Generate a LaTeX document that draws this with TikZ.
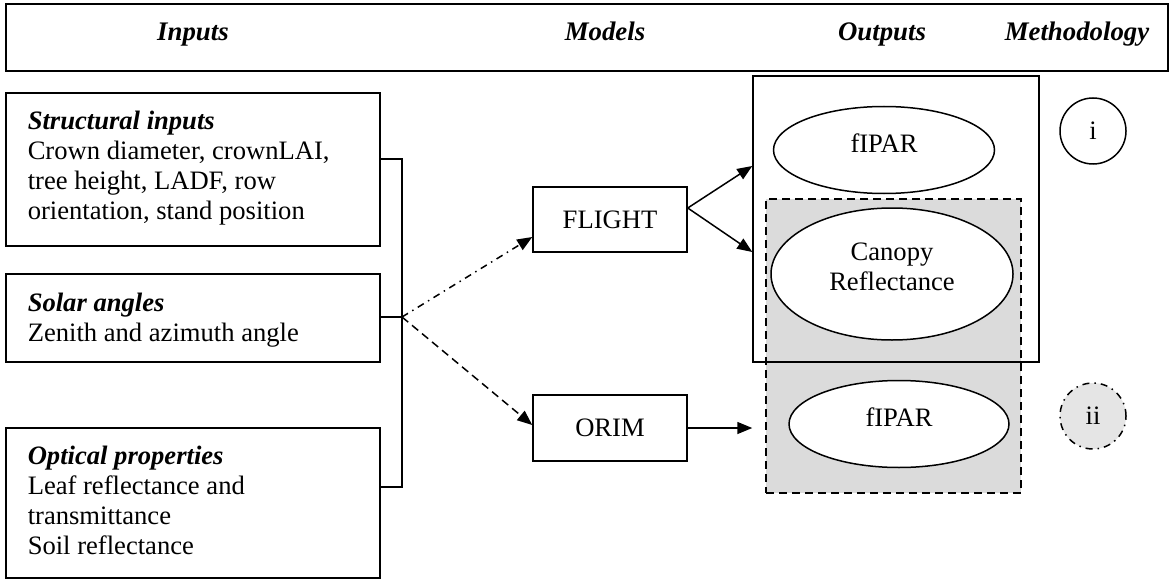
\documentclass[tikz,border=0pt]{standalone}
\usepackage{fontspec}
\setmainfont{Liberation Serif}
\usetikzlibrary{arrows.meta,shapes.geometric,calc}
\definecolor{stip}{gray}{0.86}
\definecolor{stipc}{gray}{0.90}
\begin{document}
\begin{tikzpicture}[x=1pt,y=-1pt, line width=1.5pt,
  box/.style={draw, rectangle, inner sep=0pt},
  txt/.style={font=\fontsize{26.6}{30}\selectfont, inner sep=0pt, align=left, anchor=north west},
  hdr/.style={font=\fontsize{26.8}{30}\selectfont\bfseries\itshape, inner sep=0pt, anchor=base},
  ell/.style={draw, ellipse, fill=white, inner sep=0pt, font=\fontsize{26.6}{30}\selectfont, align=center, text depth=14pt},
  tip/.style={-{Triangle[length=15pt,width=12pt]}},
  dashdot/.style={dash pattern=on 7pt off 5pt on 1.5pt off 5pt},
  dsh/.style={dash pattern=on 8pt off 5pt},
]
\useasboundingbox (0,0) rectangle (1174,580);

% header
\node[box, line width=1.8pt, minimum width=1162pt, minimum height=67pt] (hdrbox) at (587,37.5) {};
\node[hdr] (hin) at (193,41) {Inputs};
\node[hdr] (hmo) at (605,41) {Models};
\node[hdr] (hout) at (882,41) {Outputs};
\node[hdr] (hme) at (1077,41) {Methodology};

% input boxes
\node[box, minimum width=374pt, minimum height=153pt] (b1) at (193,169.5) {};
\node[box, minimum width=374pt, minimum height=88pt] (b2) at (193,318) {};
\node[box, minimum width=374pt, minimum height=150pt] (b3) at (193,503) {};
\node[txt] (t1) at (27,110) {\textbf{\textit{Structural inputs}}\\Crown diameter, crownLAI,\\tree height, LADF, row\\orientation, stand position};
\node[txt] (t2) at (27,292) {\textbf{\textit{Solar angles}}\\Zenith and azimuth angle};
\node[txt] (t3) at (27,445) {\textbf{\textit{Optical properties}}\\Leaf reflectance and\\transmittance\\Soil reflectance};

% bracket
\coordinate (jn) at (402,317);
\coordinate (j1) at (402,159);
\coordinate (j3) at (402,487);
\draw (b1.east |- j1) -- (j1) -- (j3) -- (b3.east |- j3);
\draw (b2.east |- jn) -- (jn);

% models
\node[box, minimum width=154pt, minimum height=65pt, font=\fontsize{26.6}{30}\selectfont] (fl) at (610,219.5) {FLIGHT};
\node[box, minimum width=154pt, minimum height=66pt, font=\fontsize{26.6}{30}\selectfont] (or) at (610,428) {ORIM};

% outputs
\node[box, dsh, fill=stip, minimum width=255pt, minimum height=294pt] (grey) at (893.5,346) {};
\node[box, minimum width=286pt, minimum height=286pt] (outbox) at (896,219) {};
\node[ell, minimum width=221pt, minimum height=87pt] (e1) at (884,150) {fIPAR};
\node[ell, minimum width=242pt, minimum height=132pt] (e2) at (892,274) {Canopy\\Reflectance};
\node[ell, minimum width=220pt, minimum height=87pt] (e3) at (899,424) {fIPAR};

% methodology
\node[draw, circle, minimum size=66pt, inner sep=0pt, font=\fontsize{26.6}{30}\selectfont] (ci) at (1093,131) {i};
\node[draw, circle, dashdot, fill=stipc, minimum size=66pt, inner sep=0pt, font=\fontsize{26.6}{30}\selectfont] (cii) at (1093,416) {ii};

% connectors
\coordinate (flo) at ($(fl.east)+(0,-11.5)$);
\coordinate (a1) at (outbox.west |- 0,166);
\coordinate (a2) at (outbox.west |- 0,252);
\draw[tip] (flo) -- (a1);
\draw[tip] (flo) -- (a2);
\draw[tip] (or.east) -- (outbox.west |- or.east);
\draw[tip, dashdot] (jn) -- (fl.west |- 0,237);
\draw[tip, dsh] (jn) -- (or.west |- 0,425);
\end{tikzpicture}
\end{document}
